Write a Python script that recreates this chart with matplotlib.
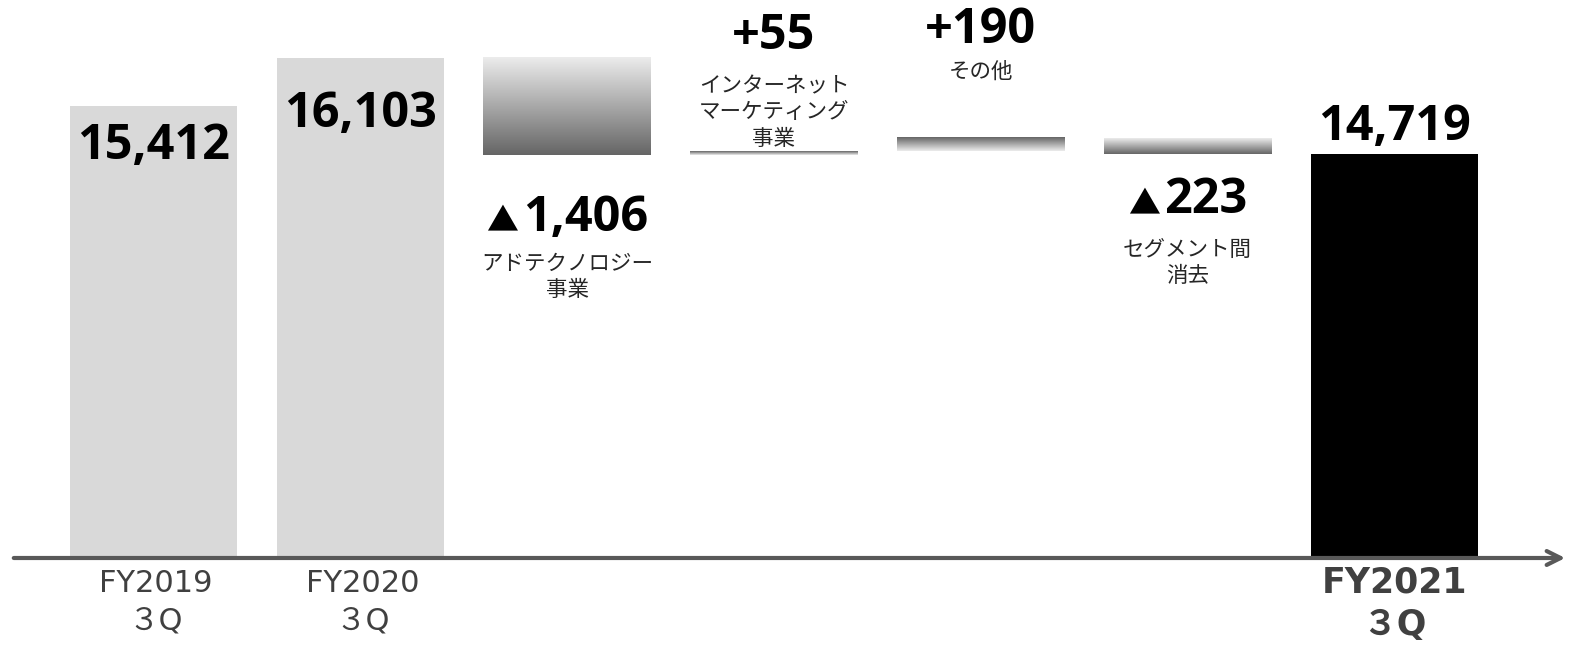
import matplotlib as mpl
import matplotlib.pyplot as plt
import numpy as np
from matplotlib.colors import LinearSegmentedColormap
from matplotlib.offsetbox import TextArea, HPacker, AnnotationBbox

mpl.rcParams['font.family'] = ['Noto Sans CJK JP', 'DejaVu Sans']

# data (million yen)
start_labels = ['FY2019\n３Q', 'FY2020\n３Q']
start_values = [15412, 16103]
step_labels = ['アドテクノロジー\n事業', 'インターネット\nマーケティング\n事業', 'その他', 'セグメント間\n消去']
step_values = [-1406, 55, 190, -223]
end_label = 'FY2021\n３Q'
end_value = 14719

# layout: axes fills whole figure, value axis is cut at axis_floor
axis_floor = 8893
px = 14.41          # value units per pixel
bar_w = 0.81
step_x = 206.8      # pixels between bar centres
x0 = 153.5          # pixel centre of first bar

fig = plt.figure(figsize=(15.96, 6.57), dpi=100)
ax = fig.add_axes([0, 0, 1, 1])
ax.set_xlim(-x0 / step_x, (1596 - x0) / step_x)
ax.set_ylim(axis_floor - 99 * px, axis_floor + 558 * px)
ax.axis('off')

num_props = dict(fontfamily=['Open Sans', 'Noto Sans CJK JP'], fontweight='bold',
                 fontsize=35, color='black')
sign_props = dict(fontfamily=['Noto Sans CJK JP'], fontweight='bold',
                  fontsize=23, color='black')
jp_font = dict(family=['Noto Sans CJK JP'], size=15.5, color='#262626')
cat_font = dict(family=['DejaVu Sans', 'Noto Sans CJK JP'], size=22, color='#404040')

# gradient maps: light->dark for falls, dark->light for rises
down_cmap = LinearSegmentedColormap.from_list('down', ['#ececec', '#656565'])
up_cmap = LinearSegmentedColormap.from_list('up', ['#656565', '#ececec'])
grad = np.linspace(0, 1, 256).reshape(-1, 1)


def value_label(x, y, text, dy, sign=None):
    parts = [TextArea(text, textprops=num_props)]
    if sign:
        parts.insert(0, TextArea(sign, textprops=sign_props))
    box = HPacker(children=parts, align='baseline', pad=0, sep=3)
    # box centre includes descent, push down so digits sit centred
    ab = AnnotationBbox(box, (x, y), xybox=(0, dy - 7), boxcoords='offset pixels',
                        frameon=False, box_alignment=(0.5, 0.5))
    ax.add_artist(ab)


def label(x, y, text, dy, font):
    ax.annotate(text, xy=(x, y), xytext=(0, dy), textcoords='offset pixels',
                ha='center', va='center', linespacing=1.25, **font)


# starting totals
for i, v in enumerate(start_values):
    ax.bar(i, v - axis_floor, bottom=axis_floor, width=bar_w,
           color='#d9d9d9', zorder=1)
    ax.text(i + 0.01, axis_floor - 44 * px, start_labels[i], ha='center', va='center',
            linespacing=1.35, **cat_font)
value_label(0, start_values[0], '{:,}'.format(start_values[0]), -34)
value_label(1, start_values[1], '{:,}'.format(start_values[1]), -50)

# waterfall steps
level = start_values[-1]
step_offsets = [(-56, -122), (122, 39), (115, 66), (-40, -109)]
for j, d in enumerate(step_values):
    x = j + 2
    lo, hi = sorted([level, level + d])
    cmap = down_cmap if d < 0 else up_cmap
    ax.imshow(grad, cmap=cmap, aspect='auto', zorder=1,
              extent=[x - bar_w / 2, x + bar_w / 2, lo, hi])
    anchor = lo if d < 0 else hi
    if d < 0:
        value_label(x, anchor, '{:,}'.format(-d), step_offsets[j][0], '▲')
    else:
        value_label(x, anchor, '+{:,}'.format(d), step_offsets[j][0])
    label(x, anchor, step_labels[j], step_offsets[j][1], jp_font)
    level += d

# ending total
xe = len(start_values) + len(step_values)
ax.bar(xe, end_value - axis_floor, bottom=axis_floor, width=bar_w,
       color='black', zorder=1)
value_label(xe, end_value, '{:,}'.format(end_value), 33)
end_font = dict(cat_font, weight='bold', size=25)
ax.text(xe, axis_floor - 46 * px, end_label, ha='center', va='center',
        linespacing=1.3, **end_font)

# base axis with arrow
ax.annotate('', xy=((1568 - x0) / step_x, axis_floor),
            xytext=((11 - x0) / step_x, axis_floor),
            arrowprops=dict(arrowstyle='->', color='#595959', lw=3,
                            mutation_scale=25), zorder=3)

fig.savefig('out.png', dpi=100)
